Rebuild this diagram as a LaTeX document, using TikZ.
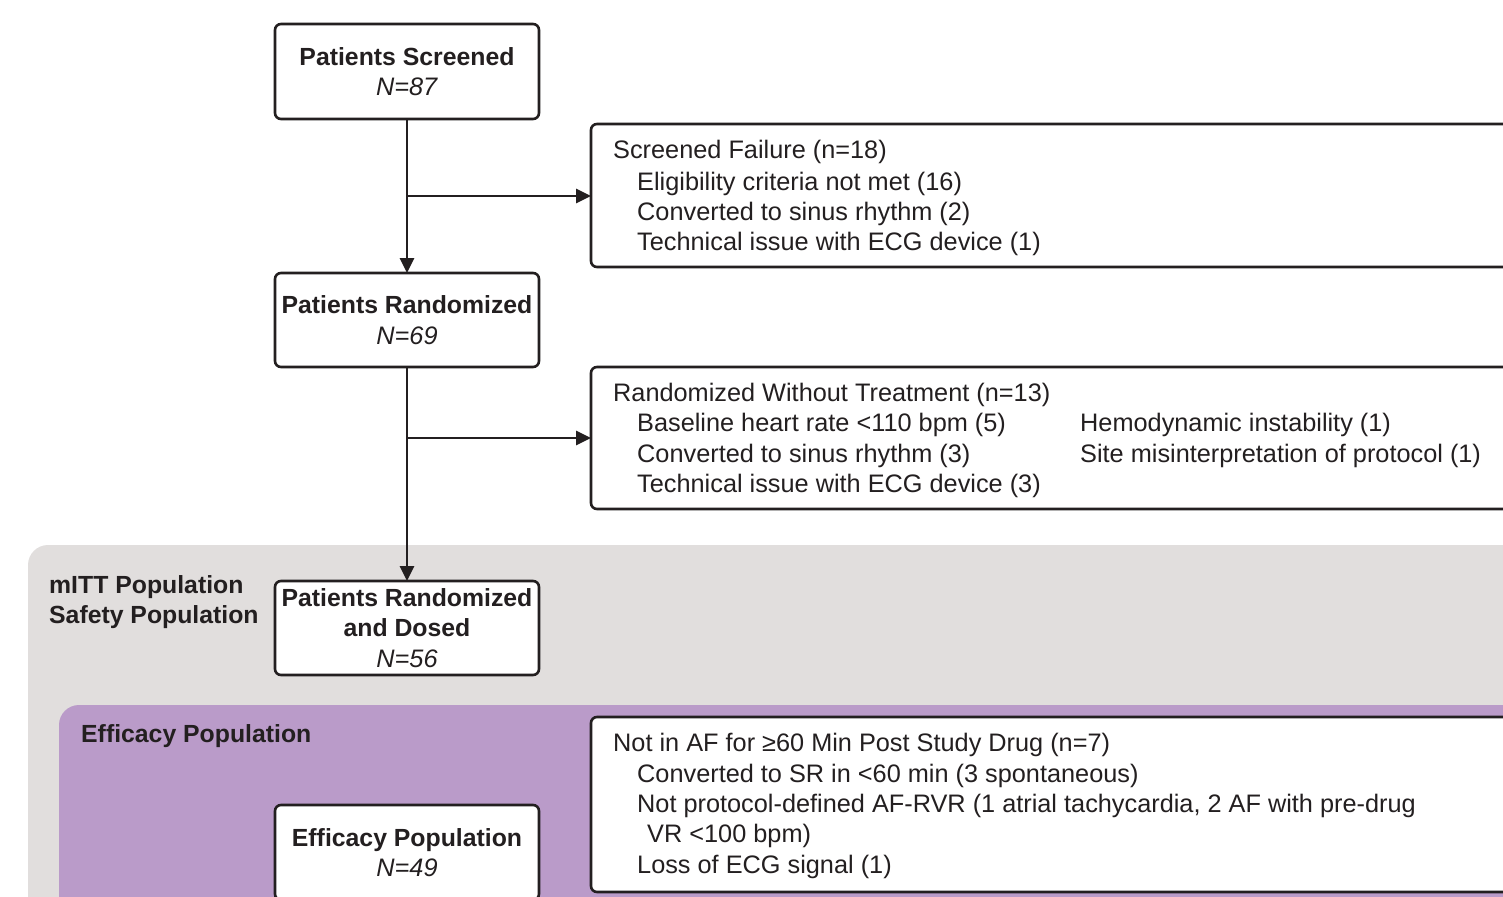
\documentclass[tikz,border=0pt]{standalone}
\usepackage{fontspec}
\setmainfont{Liberation Sans}
\usetikzlibrary{arrows.meta}
\definecolor{txt}{HTML}{231F20}
\definecolor{graybg}{HTML}{E1DEDD}
\definecolor{purp}{HTML}{BA9BC9}
\newcommand{\bt}[1]{{\fontsize{24.8}{30.3}\selectfont\bfseries #1}}
\begin{document}
\begin{tikzpicture}[x=1pt,y=-1pt,
  font=\fontsize{25.3}{30.3}\selectfont, text=txt,
  box/.style={draw=txt, line width=2.6pt, rounded corners=6pt, fill=white,
    minimum width=264pt, align=center, inner sep=0pt, outer sep=0pt},
  sidebox/.style={draw=txt, line width=2.6pt, rounded corners=6pt, fill=white,
    anchor=north west, minimum width=1000pt, inner sep=0pt, outer sep=0pt},
  line/.style={anchor=base west, inner sep=0pt},
  lbl/.style={anchor=base west, inner sep=0pt, font=\fontsize{24.8}{30.3}\selectfont\bfseries},
  conn/.style={draw=txt, line width=2.8pt},
  arr/.style={conn, -{Triangle[length=15pt,width=14pt]}}
]
\useasboundingbox (0,0) rectangle (1503,896);
\clip (0,0) rectangle (1503,896);

% background regions
\fill[graybg, rounded corners=20pt] (28,545) rectangle (1560,960);
\fill[purp, rounded corners=20pt] (59,705) rectangle (1560,960);

% centre boxes
\node[box, minimum height=95pt] (scr) at (407,71.5)
  {\bt{Patients Screened}\\\textit{N=87}};
\node[box, minimum height=94pt] (rand) at (407,320)
  {\bt{Patients Randomized}\\\textit{N=69}};
\node[box, minimum height=94pt, text depth=0pt] (dosed) at (407,628)
  {\bt{Patients Randomized}\\\bt{and Dosed}\\\textit{N=56}};
\node[box, minimum height=95pt] (eff) at (407,852.5)
  {\bt{Efficacy Population}\\\textit{N=49}};

% side boxes
\node[sidebox, minimum height=143pt] (fail) at (591,124) {};
\node[sidebox, minimum height=142pt] (wout) at (591,367) {};
\node[sidebox, minimum height=175pt] (notaf) at (591,717) {};

% connectors
\coordinate (j1) at (407,196);
\coordinate (j2) at (407,438);
\draw[arr] (scr.south) -- (rand.north);
\draw[arr] (j1) -- (fail.west |- j1);
\draw[arr] (rand.south) -- (dosed.north);
\draw[arr] (j2) -- (wout.west |- j2);

% region labels
\node[lbl] (mitt) at (49,593) {mITT Population};
\node[lbl] (safe) at (49,623) {Safety Population};
\node[lbl] (effl) at (81,742) {Efficacy Population};

% screened failure text
\node[line] (f1) at (613,159) {Screened Failure (n=18)};
\node[line] (f2) at (637,190) {Eligibility criteria not met (16)};
\node[line] (f3) at (637,220) {Converted to sinus rhythm (2)};
\node[line] (f4) at (637,250) {Technical issue with ECG device (1)};

% randomized without treatment text
\node[line] (w1) at (613,401) {Randomized Without Treatment (n=13)};
\node[line] (w2) at (637,431) {Baseline heart rate <110 bpm (5)};
\node[line] (w3) at (637,462) {Converted to sinus rhythm (3)};
\node[line] (w4) at (637,492) {Technical issue with ECG device (3)};
\node[line] (w5) at (1080,431) {Hemodynamic instability (1)};
\node[line] (w6) at (1080,462) {Site misinterpretation of protocol (1)};

% not in AF text
\node[line] (n1) at (613,751) {Not in AF for ≥60 Min Post Study Drug (n=7)};
\node[line] (n2) at (637,782) {Converted to SR in <60 min (3 spontaneous)};
\node[line] (n3) at (637,812) {Not protocol-defined AF-RVR (1 atrial tachycardia, 2 AF with pre-drug};
\node[line] (n4) at (647,842) {VR <100 bpm)};
\node[line] (n5) at (637,873) {Loss of ECG signal (1)};
\end{tikzpicture}
\end{document}
